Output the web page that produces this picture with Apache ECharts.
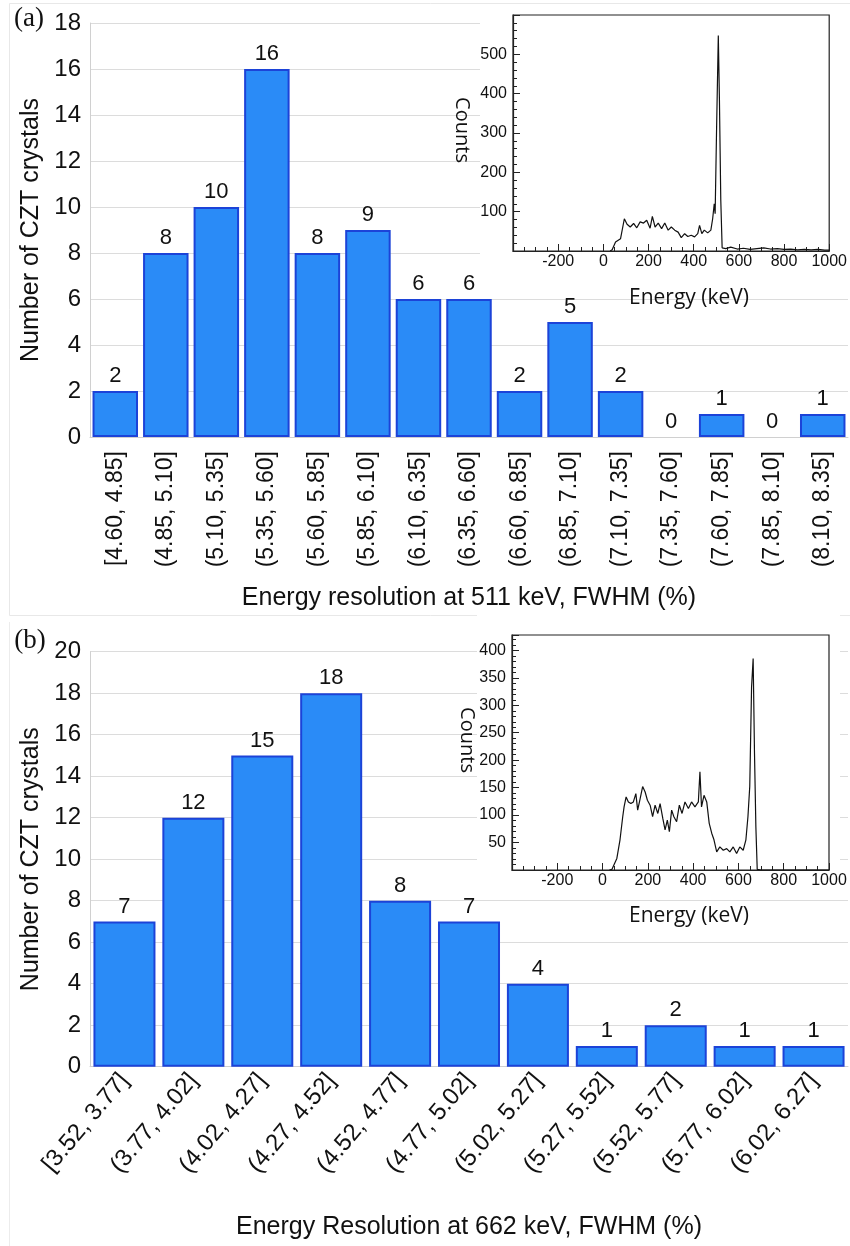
<!DOCTYPE html>
<html><head><meta charset="utf-8">
<script src="https://cdn.jsdelivr.net/npm/echarts@6/dist/echarts.min.js"></script>
<style>html,body{margin:0;padding:0;background:#fff}#c{width:850px;height:1246px}</style>
</head><body><div id="c"></div>
<script>
// ---- Panel (a) histogram ----
const catsA = ['[4.60, 4.85]','(4.85, 5.10]','(5.10, 5.35]','(5.35, 5.60]','(5.60, 5.85]','(5.85, 6.10]','(6.10, 6.35]','(6.35, 6.60]','(6.60, 6.85]','(6.85, 7.10]','(7.10, 7.35]','(7.35, 7.60]','(7.60, 7.85]','(7.85, 8.10]','(8.10, 8.35]'];
const valsA = [2,8,10,16,8,9,6,6,2,5,2,0,1,0,1];
// ---- Panel (b) histogram ----
const catsB = ['[3.52, 3.77]','(3.77, 4.02]','(4.02, 4.27]','(4.27, 4.52]','(4.52, 4.77]','(4.77, 5.02]','(5.02, 5.27]','(5.27, 5.52]','(5.52, 5.77]','(5.77, 6.02]','(6.02, 6.27]'];
const valsB = [7,12,15,18,8,7,4,1,2,1,1];
// ---- Inset spectra [energy keV, counts] ----
const specA = [[30,0],[39,3],[54,23],[76,31],[93,82],[105,68],[119,61],[134,70],[148,59],[163,74],[178,71],[192,78],[207,58],[217,88],[229,61],[243,71],[258,57],[272,71],[287,53],[301,61],[316,53],[331,48],[345,34],[360,44],[374,37],[389,40],[404,36],[418,44],[426,65],[436,44],[447,53],[462,46],[476,53],[484,82],[491,120],[495,95],[501,298],[509,548],[514,383],[520,129],[526,8],[542,6],[564,10],[593,5],[620,7],[650,4],[680,6],[710,8],[740,5],[770,6],[800,4],[830,5],[860,3],[890,4],[920,3],[950,4],[980,2],[1000,2]];
const specB = [[30,0],[41,1],[63,21],[77,55],[89,97],[95,115],[104,133],[114,124],[125,121],[136,124],[147,139],[155,109],[166,130],[177,152],[188,142],[198,127],[210,118],[221,97],[232,118],[244,103],[254,121],[266,94],[276,73],[286,91],[295,70],[305,109],[315,97],[327,88],[339,118],[351,103],[364,124],[379,112],[393,124],[408,115],[423,124],[430,179],[437,115],[448,136],[460,124],[471,85],[482,67],[492,55],[504,33],[518,42],[533,36],[548,39],[562,33],[577,42],[592,30],[606,42],[621,36],[633,55],[642,97],[650,152],[658,333],[665,385],[671,212],[677,79],[683,1],[700,0],[1000,0]];

const titleA = 'Energy resolution at 511 keV, FWHM (%)';
const titleB = 'Energy Resolution at 662 keV, FWHM (%)';
const yTitle = 'Number of CZT crystals';

const SANS = "'Liberation Sans', Arial, sans-serif";
const barStyle = {color:'#2a8bf7', borderColor:'#1c43d8', borderWidth:2};
const barData = vals => vals.map(v => v === 0 ? {value:v, itemStyle:{borderWidth:0}} : v);

function mainY(gi, max){
  return {type:'value', gridIndex:gi, min:0, max:max, interval:2,
    name:yTitle, nameLocation:'middle', nameGap:46, nameRotate:90, nameMoveOverlap:false,
    nameTextStyle:{fontFamily:SANS, fontSize:25, color:'#111'},
    axisLine:{show:true, lineStyle:{color:'#d0d0d0'}}, axisTick:{show:false},
    axisLabel:{fontFamily:SANS, fontSize:24, color:'#111', margin:9},
    splitLine:{lineStyle:{color:'#dcdcdc'}}};
}
function insetX(gi){
  return {type:'value', gridIndex:gi, min:-400, max:1000, interval:200, z:5,
    axisLine:{show:true, onZero:false, lineStyle:{color:'#222', width:1.2}},
    axisTick:{show:true, inside:true, length:7, lineStyle:{color:'#222'}},
    minorTick:{show:true, splitNumber:4, length:4, lineStyle:{color:'#222'}},
    axisLabel:{fontFamily:SANS, fontSize:16, color:'#111', margin:3, showMinLabel:false, formatter: v => String(v)},
    splitLine:{show:false}};
}
function insetY(gi, max, itv){
  return {type:'value', gridIndex:gi, min:0, max:max, interval:itv, z:5,
    axisLine:{show:true, onZero:false, lineStyle:{color:'#222', width:1.2}},
    axisTick:{show:true, inside:true, length:7, lineStyle:{color:'#222'}},
    minorTick:{show:true, splitNumber:5, length:4, lineStyle:{color:'#222'}},
    axisLabel:{fontFamily:SANS, fontSize:16, color:'#111', margin:6, showMinLabel:false, showMaxLabel:false},
    splitLine:{show:false}};
}
function txt(x, y, s, font, rot, z){
  return {type:'text', x:x, y:y, rotation:rot||0, z:z||10,
    style:{text:s, font:font, fill:'#111', align:'center', verticalAlign:'middle', textAlign:'center', textVerticalAlign:'middle'}};
}

const option = {
  backgroundColor:'#fff',
  animation:false,
  grid:[
    {left:90, top:23, width:758, height:414},
    {left:90, top:651.7, width:758, height:415},
    {left:513, top:15, width:320, height:236, show:true, borderColor:'#222', borderWidth:1.2, backgroundColor:'#fff', z:4},
    {left:512, top:635, width:317, height:235, show:true, borderColor:'#222', borderWidth:1.2, backgroundColor:'#fff', z:4}
  ],
  xAxis:[
    {type:'category', gridIndex:0, data:catsA,
      axisLine:{show:true, lineStyle:{color:'#d0d0d0'}}, axisTick:{show:false},
      axisLabel:{interval:0, rotate:90, fontFamily:SANS, fontSize:23, color:'#111', margin:14}},
    {type:'category', gridIndex:1, data:catsB,
      axisLine:{show:true, lineStyle:{color:'#d0d0d0'}}, axisTick:{show:false},
      axisLabel:{interval:0, rotate:50, fontFamily:SANS, fontSize:24, color:'#111', margin:10}},
    insetX(2), insetX(3)
  ],
  yAxis:[ mainY(0,18), mainY(1,20), insetY(2,600,100), insetY(3,428,50) ],
  series:[
    {type:'bar', xAxisIndex:0, yAxisIndex:0, data:barData(valsA), barCategoryGap:'10%', itemStyle:barStyle,
      label:{show:true, position:'top', distance:4, fontFamily:SANS, fontSize:22, color:'#111'}},
    {type:'bar', xAxisIndex:1, yAxisIndex:1, data:barData(valsB), barCategoryGap:'10%', itemStyle:barStyle,
      label:{show:true, position:'top', distance:4, fontFamily:SANS, fontSize:22, color:'#111'}},
    {type:'line', xAxisIndex:2, yAxisIndex:2, data:specA, showSymbol:false, symbol:'none', z:6,
      lineStyle:{color:'#111', width:1.2}},
    {type:'line', xAxisIndex:3, yAxisIndex:3, data:specB, showSymbol:false, symbol:'none', z:6,
      lineStyle:{color:'#111', width:1.2}}
  ],
  graphic:{elements:[
    {type:'rect', z:-1, shape:{x:9.5, y:3.5, width:845, height:612}, style:{fill:'none', stroke:'#e8e8e8', lineWidth:1}},
    {type:'line', z:-1, shape:{x1:9.5, y1:622, x2:9.5, y2:1246}, style:{stroke:'#ececec', lineWidth:1}},
    {type:'rect', z:3, shape:{x:480, y:4, width:370, height:278}, style:{fill:'#fff'}},
    {type:'rect', z:3, shape:{x:477, y:612, width:363, height:284}, style:{fill:'#fff'}},
    txt(29, 19, '(a)', "27px 'Liberation Serif', 'Times New Roman', serif"),
    txt(30, 641, '(b)', "27px 'Liberation Serif', 'Times New Roman', serif"),
    txt(469, 598, titleA, "25px 'Liberation Sans', Arial, sans-serif"),
    txt(469, 1227, titleB, "25px 'Liberation Sans', Arial, sans-serif"),
    txt(689, 298, 'Energy (keV)', "21px 'Open Sans', sans-serif"),
    txt(689, 916, 'Energy (keV)', "21px 'Open Sans', sans-serif"),
    txt(462, 130, 'Counts', "20px 'Open Sans', sans-serif", -Math.PI/2),
    txt(467, 740, 'Counts', "20px 'Open Sans', sans-serif", -Math.PI/2)
  ]}
};
const chart = echarts.init(document.getElementById('c'), null, {renderer:'canvas'});
chart.setOption(option);
</script></body></html>
